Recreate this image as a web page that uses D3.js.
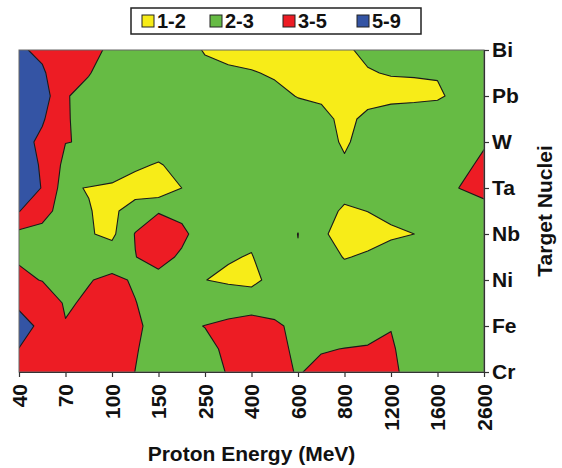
<!DOCTYPE html>
<html>
<head>
<meta charset="utf-8">
<script src="https://cdn.jsdelivr.net/npm/d3@7"></script>
<style>
  body { margin: 0; background: #fff; }
  svg { display: block; font-family: "Liberation Sans", Arial, sans-serif; font-weight: bold; }
</style>
</head>
<body>
<svg id="chart" width="562" height="468"></svg>
<script>
// categories
const energies = ['40', '70', '100', '150', '250', '400', '600', '800', '1200', '1600', '2600'];
const nuclei = ['Cr', 'Fe', 'Ni', 'Nb', 'Ta', 'W', 'Pb', 'Bi'];

// values, one per proton energy
const cr = [4.0, 3.8, 3.5, 2.48, 2.62, 3.5, 2.95, 3.4, 3.15, 2.3, 2.5];
const fe = [5.91, 3.06, 3.6, 2.7, 3.016, 3.39, 2.83, 2.63, 2.98, 2.5, 2.5];
const ni = [3.22, 2.7, 3.2, 2.6, 2.01, 1.75, 2.89, 2.45, 2.67, 2.5, 2.5];
const nb = [2.54, 2.34, 1.8, 4.3, 2.3, 2.17, 3.01, 1.45, 1.9, 2.1, 2.2];
const ta = [7.6, 2.06, 1.9, 1.4, 2.6, 2.6, 2.6, 2.3, 2.4, 2.79, 3.25];
const w  = [5.93, 3.03, 2.8, 2.46, 2.6, 2.6, 2.7, 1.9, 2.7, 2.5, 2.95];
const pb = [9.0, 3.05, 2.5, 2.6, 2.32, 2.4, 1.97, 1.9, 1.85, 1.95, 2.26];
const bi = [5.3, 3.8, 2.8, 2.5, 1.96, 1.7, 1.6, 1.95, 2.2, 2.1, 2.5];

// legend bands
const bands = ['1-2', '2-3', '3-5', '5-9'];
const thresholds = [1, 2, 3, 5];
const colors = ['#f7ec18', '#66bb44', '#ed1c24', '#3454a4'];

const svg = d3.select('#chart');
const plot = { left: 19, right: 484, top: 50, bottom: 372 };

const x = d3.scalePoint().domain(energies).range([plot.left, plot.right]);
const y = d3.scalePoint().domain(nuclei).range([plot.bottom, plot.top]);

// grid rows from top (Bi) to bottom (Cr)
const rows = [bi, pb, w, ta, nb, ni, fe, cr];

// surface sampled at half steps (bilinear) like the spreadsheet contour renderer
const sub = 2;
const nx = (energies.length - 1) * sub + 1;
const ny = (rows.length - 1) * sub + 1;
const surface = new Array(nx * ny);
for (let j = 0; j < ny; j++) {
  for (let i = 0; i < nx; i++) {
    const gx = i / sub, gy = j / sub;
    const i0 = Math.min(Math.floor(gx), energies.length - 2);
    const j0 = Math.min(Math.floor(gy), rows.length - 2);
    const fx = gx - i0, fy = gy - j0;
    surface[j * nx + i] =
      rows[j0][i0] * (1 - fx) * (1 - fy) + rows[j0][i0 + 1] * fx * (1 - fy) +
      rows[j0 + 1][i0] * (1 - fx) * fy + rows[j0 + 1][i0 + 1] * fx * fy;
  }
}

const contours = d3.contours().size([nx, ny]).thresholds(thresholds)(surface);

const gu = d3.scaleLinear().domain([0.5, nx - 0.5]).range([x(energies[0]), x(energies[energies.length - 1])]);
const gv = d3.scaleLinear().domain([0.5, ny - 0.5]).range([y('Bi'), y('Cr')]);
const path = d3.geoPath(d3.geoTransform({
  point(px, py) { this.stream.point(gu(px), gv(py)); }
}));

svg.append('defs').append('clipPath').attr('id', 'plot-clip')
  .append('rect')
  .attr('x', plot.left).attr('y', plot.top)
  .attr('width', plot.right - plot.left).attr('height', plot.bottom - plot.top);

svg.append('g')
  .attr('clip-path', 'url(#plot-clip)')
  .selectAll('path')
  .data(contours)
  .join('path')
  .attr('d', path)
  .attr('fill', (d, i) => colors[i])
  .attr('stroke', '#1a1a1a')
  .attr('stroke-width', 1.1)
  .attr('stroke-linejoin', 'round');

// frame
svg.append('rect')
  .attr('x', plot.left).attr('y', plot.top)
  .attr('width', plot.right - plot.left).attr('height', plot.bottom - plot.top)
  .attr('fill', 'none')
  .attr('stroke', '#666')
  .attr('stroke-width', 1);

// bottom axis, rotated labels
const xAxis = svg.append('g')
  .attr('transform', `translate(0,${plot.bottom})`)
  .call(d3.axisBottom(x).tickSize(5).tickSizeOuter(0));
xAxis.select('.domain').attr('stroke', '#333').attr('stroke-width', 1.2);
xAxis.selectAll('.tick line').attr('stroke', '#333').attr('stroke-width', 1.2);
xAxis.selectAll('.tick text')
  .attr('transform', 'rotate(-90)')
  .attr('x', -12)
  .attr('y', 0)
  .attr('dy', '0.35em')
  .style('text-anchor', 'end')
  .attr('fill', '#111')
  .style('font-size', '21px')
  .style('font-weight', 'bold');

// right axis
const yAxis = svg.append('g')
  .attr('transform', `translate(${plot.right},0)`)
  .call(d3.axisRight(y).tickSize(5).tickPadding(3).tickSizeOuter(0));
yAxis.select('.domain').attr('stroke', '#333').attr('stroke-width', 1.2);
yAxis.selectAll('.tick line').attr('stroke', '#333').attr('stroke-width', 1.2);
yAxis.selectAll('.tick text')
  .attr('fill', '#111')
  .style('font-size', '21px')
  .style('font-weight', 'bold');

// axis titles
svg.append('text')
  .attr('x', (plot.left + plot.right) / 2)
  .attr('y', 461)
  .attr('text-anchor', 'middle')
  .attr('fill', '#111')
  .style('font-size', '21px')
  .text('Proton Energy (MeV)');

svg.append('text')
  .attr('transform', `translate(552,${(plot.top + plot.bottom) / 2}) rotate(-90)`)
  .attr('text-anchor', 'middle')
  .attr('fill', '#111')
  .style('font-size', '21px')
  .text('Target Nuclei');

// legend
const legend = svg.append('g');
legend.append('rect')
  .attr('x', 131).attr('y', 8)
  .attr('width', 290).attr('height', 26)
  .attr('fill', '#fff')
  .attr('stroke', '#222')
  .attr('stroke-width', 1.5);

const legendX = [142, 210, 283, 357];
const item = legend.selectAll('g.item')
  .data(bands)
  .join('g')
  .attr('class', 'item')
  .attr('transform', (d, i) => `translate(${legendX[i]},15)`);

item.append('rect')
  .attr('width', 12).attr('height', 12)
  .attr('fill', (d, i) => colors[i])
  .attr('stroke', '#222')
  .attr('stroke-width', 1);

item.append('text')
  .attr('x', 15)
  .attr('y', 13)
  .attr('fill', '#111')
  .style('font-size', '20px')
  .text(d => d);
</script>
</body>
</html>
